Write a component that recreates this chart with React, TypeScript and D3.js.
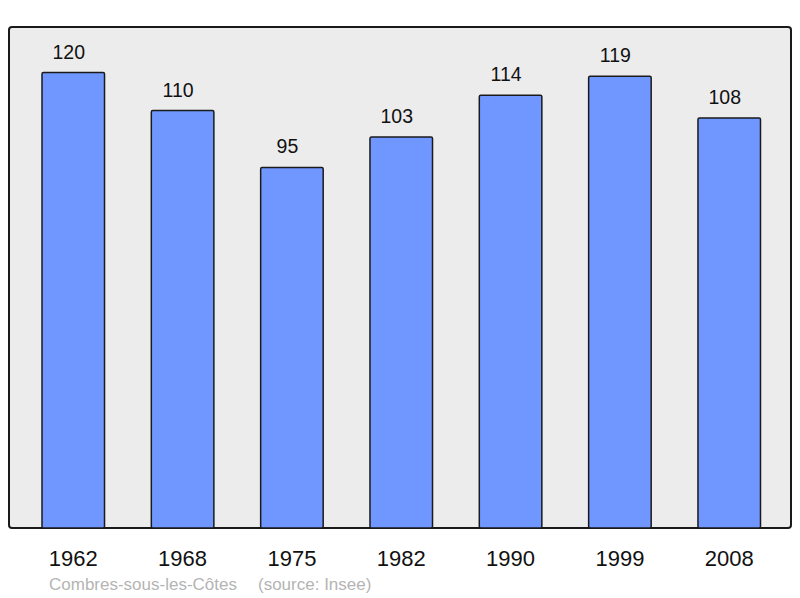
import React from 'react';
import * as d3 from 'd3';

const years = ['1962', '1968', '1975', '1982', '1990', '1999', '2008'];
const population = [120, 110, 95, 103, 114, 119, 108];
const commune = 'Combres-sous-les-Côtes';
const source = '(source: Insee)';

const W = 800, H = 598;
const panel = { left: 9, top: 27, right: 791, bottom: 528 };

export default function App() {
  // band range reaches a bit past the panel so bars land where the original put them
  const x = d3.scaleBand<string>()
    .domain(years)
    .range([9.2, 793.3])
    .paddingInner(0.428)
    .paddingOuter(0.3);

  const y = d3.scaleLinear()
    .domain([0, 132])
    .range([panel.bottom, panel.top]);

  const font = '"Liberation Sans", Arial, sans-serif';

  return (
    <svg width={W} height={H} style={{ position: 'absolute', left: 0, top: 0 }} fontFamily={font}>
      <rect x={0} y={0} width={W} height={H} fill="#ffffff" />
      <rect
        x={panel.left}
        y={panel.top}
        width={panel.right - panel.left}
        height={panel.bottom - panel.top}
        rx={3}
        fill="#ececec"
        stroke="#1a1a1a"
        strokeWidth={2}
      />
      {years.map((yr, i) => {
        const v = population[i];
        const bx = x(yr)!;
        const cx = bx + x.bandwidth() / 2;
        return (
          <g key={yr}>
            <rect
              x={bx}
              y={y(v)}
              width={x.bandwidth()}
              height={panel.bottom - y(v)}
              rx={1.5}
              fill="#7097ff"
              stroke="#1a1a1a"
              strokeWidth={1.5}
            />
            <text x={cx - 4.5} y={y(v) - 14} textAnchor="middle" fontSize={19.5} fill="#111">
              {v}
            </text>
            <text x={cx} y={566} textAnchor="middle" fontSize={22} fill="#111">
              {yr}
            </text>
          </g>
        );
      })}
      <text x={49} y={590} fontSize={17} fill="#b4b4b4">{commune}</text>
      <text x={258} y={590} fontSize={17} fill="#b4b4b4">{source}</text>
    </svg>
  );
}
